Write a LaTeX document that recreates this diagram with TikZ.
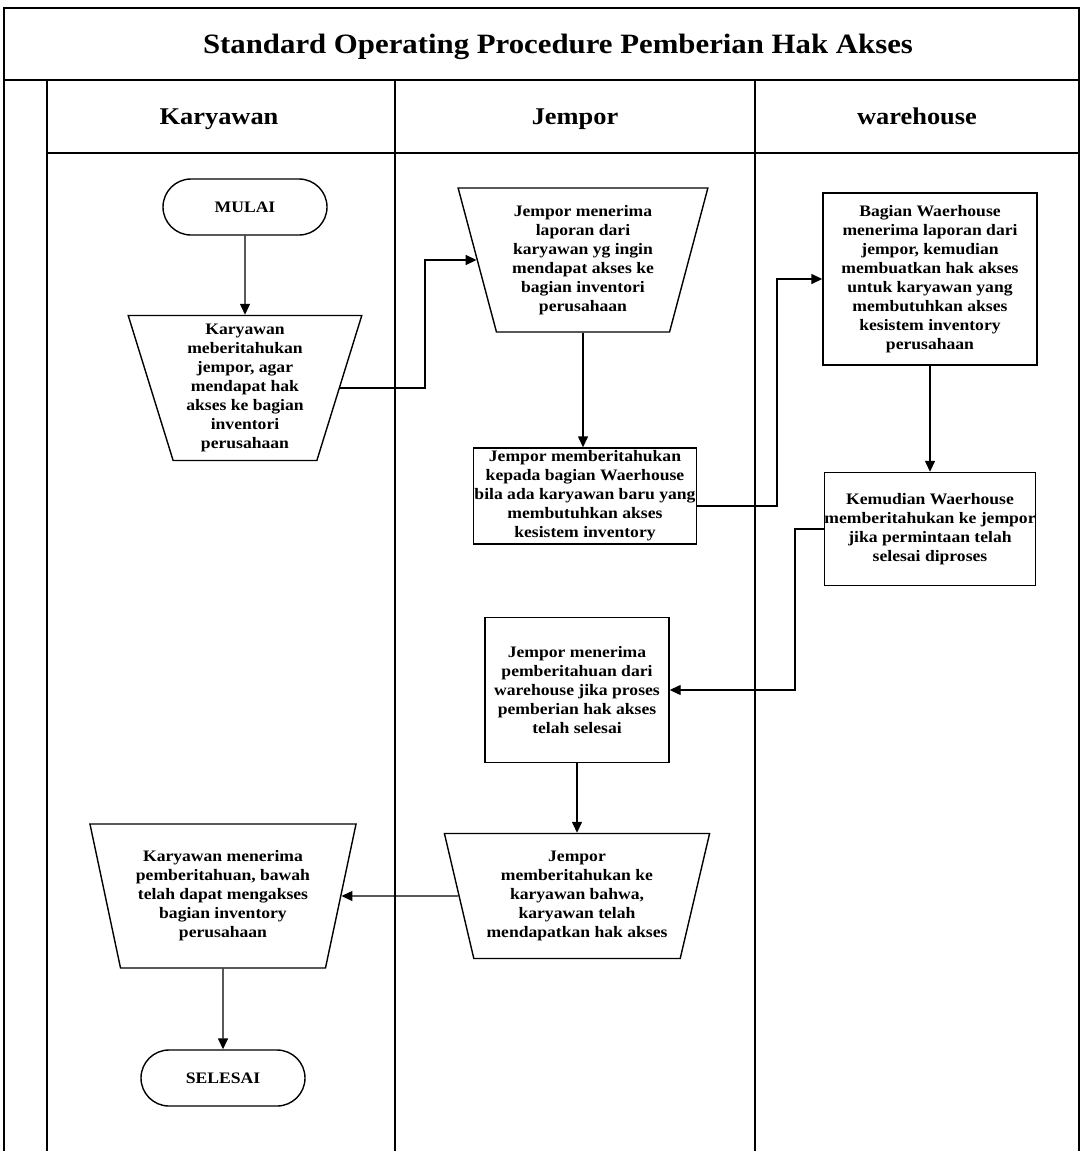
\documentclass[tikz,border=0pt]{standalone}
\usepackage{fontspec}
\setmainfont{Liberation Serif}[FakeStretch=1.1]
\usetikzlibrary{shapes.geometric, shapes.misc, arrows.meta}

\begin{document}
\begin{tikzpicture}[x=1pt, y=-1pt, line width=1.4pt,
    every node/.style={font=\bfseries\fontsize{16}{19}\selectfont},
    judul/.style={anchor=base, font=\bfseries\fontsize{28}{30}\selectfont},
    kolom/.style={anchor=base, font=\bfseries\fontsize{24}{26}\selectfont},
    terminal/.style={draw, rounded rectangle, minimum width=164pt, minimum height=56pt, inner sep=0pt},
    proses/.style={draw, rectangle, align=center, inner sep=0pt},
    manual/.style={draw, trapezium, trapezium angle=74, shape border rotate=180,
        trapezium stretches=true, align=center, inner sep=0pt},
    panah/.style={-{Triangle[length=11pt, width=10pt]}}]
\useasboundingbox (0,0) rectangle (1081,1151);

% bingkai
\draw (4,1151) -- (4,8) -- (1079,8) -- (1079,1151);
\draw (4,80) -- (1079,80);
\draw (47,153) -- (1079,153);
\foreach \x in {47,395,755}
    \draw (\x,80) -- (\x,1151);

\node[judul] (judul) at (558,53) {Standard Operating Procedure Pemberian Hak Akses};
\node[kolom] (karyawan) at (219,124) {Karyawan};
\node[kolom] (jempor) at (575,124) {Jempor};
\node[kolom] (warehouse) at (917,124) {warehouse};

% simbol
\node[terminal] (mulai) at (245,207) {MULAI};
\node[manual, minimum width=234pt, minimum height=145pt] (k1) at (245,388)
    {Karyawan\\ meberitahukan\\ jempor, agar\\ mendapat hak\\ akses ke bagian\\ inventori\\ perusahaan};
\node[manual, minimum width=250pt, minimum height=144pt] (j1) at (583,260)
    {Jempor menerima\\ laporan dari\\ karyawan yg ingin\\ mendapat akses ke\\ bagian inventori\\ perusahaan};
\node[proses, minimum width=223pt, minimum height=96pt] (j2) at (585,496)
    {Jempor memberitahukan\\ kepada bagian Waerhouse\\ bila ada karyawan baru yang\\ membutuhkan akses\\ kesistem inventory};
\node[proses, minimum width=214pt, minimum height=172pt] (w1) at (930,279)
    {Bagian Waerhouse\\ menerima laporan dari\\ jempor, kemudian\\ membuatkan hak akses\\ untuk karyawan yang\\ membutuhkan akses\\ kesistem inventory\\ perusahaan};
\node[proses, minimum width=210pt, minimum height=113pt] (w2) at (930,529)
    {Kemudian Waerhouse\\ memberitahukan ke jempor\\ jika permintaan telah\\ selesai diproses};
\node[proses, minimum width=184pt, minimum height=145pt] (j3) at (577,690)
    {Jempor menerima\\ pemberitahuan dari\\ warehouse jika proses\\ pemberian hak akses\\ telah selesai};
\node[manual, minimum width=266pt, minimum height=125pt] (j4) at (577,896)
    {Jempor\\ memberitahukan ke\\ karyawan bahwa,\\ karyawan telah\\ mendapatkan hak akses};
\node[manual, minimum width=267pt, minimum height=144pt] (k2) at (223,896)
    {Karyawan menerima\\ pemberitahuan, bawah\\ telah dapat mengakses\\ bagian inventory\\ perusahaan};
\node[terminal] (selesai) at (223,1078) {SELESAI};

% titik belok
\coordinate (t1) at (425,0);
\coordinate (t2) at (777,506);
\coordinate (t3) at (795,0);

% alur
\draw[panah] (mulai) -- (k1);
\draw[panah] (k1.east) -- (k1.east -| t1) |- (j1.west);
\draw[panah] (j1.south) -- (j1.south |- j2.north);
\draw[panah] (j2.east |- t2) -- (t2) |- (w1.west);
\draw[panah] (w1) -- (w2);
\draw[panah] (w2.west) -- (w2.west -| t3) |- (j3.east);
\draw[panah] (j3) -- (j4);
\draw[panah] (j4.west) -- (k2.east);
\draw[panah] (k2) -- (selesai);
\end{tikzpicture}
\end{document}
